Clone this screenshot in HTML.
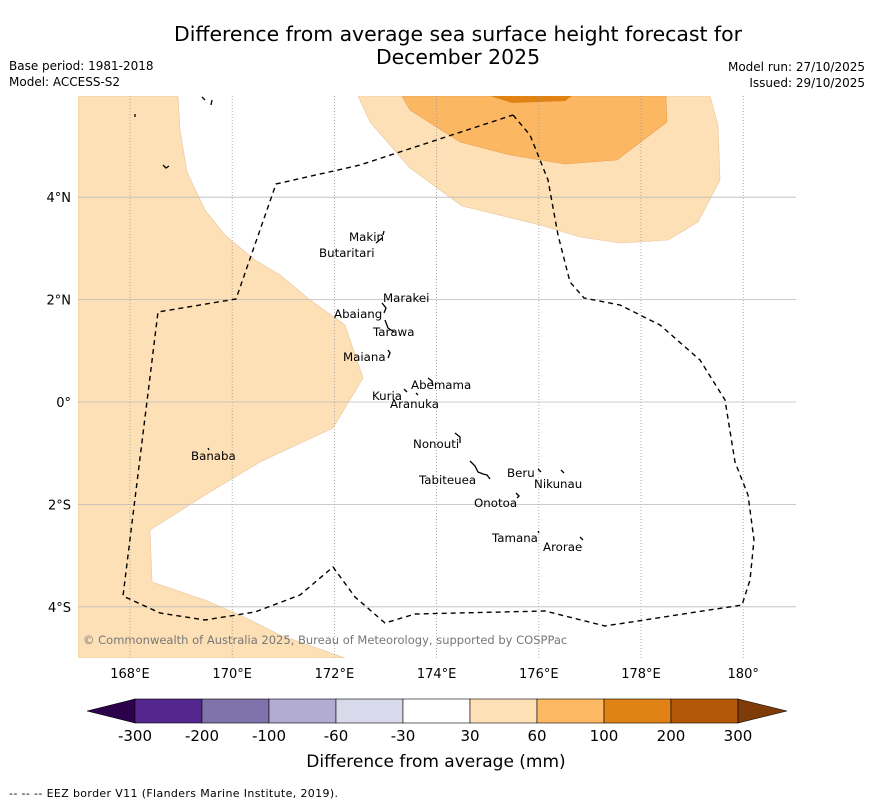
<!DOCTYPE html>
<html><head><meta charset="utf-8"><style>
body{margin:0;background:#fff;}
svg text{font-family:"DejaVu Sans","Liberation Sans",sans-serif;}
</style></head><body>
<svg width="873" height="804" viewBox="0 0 873 804" xmlns="http://www.w3.org/2000/svg">
<text x="458" y="41" font-size="20.4" text-anchor="middle">Difference from average sea surface height forecast for</text>
<text x="458" y="64" font-size="20.4" text-anchor="middle">December 2025</text>
<text x="9" y="70" font-size="12">Base period: 1981-2018</text>
<text x="9" y="86" font-size="12">Model: ACCESS-S2</text>
<text x="865" y="71" font-size="12" text-anchor="end">Model run: 27/10/2025</text>
<text x="865" y="87" font-size="12" text-anchor="end">Issued: 29/10/2025</text>
<defs><clipPath id="mc"><rect x="78" y="96" width="718" height="562"/></clipPath></defs>
<g clip-path="url(#mc)">
<polygon fill="#fde0b6" stroke="#e8c49a" stroke-width="0.6" points="78,96 178,96 180,130 187,172 205,210 225,235 255,260 280,275 310,300 345,325 363,378 333,428 260,462 210,492 150,530 152,582 205,600 240,615 280,635 345,658 78,658"/>
<polygon fill="#fde0b6" stroke="#e8c49a" stroke-width="0.6" points="358,96 710,96 718,125 720,180 698,222 668,240 620,243 580,237 540,225 462,206 410,168 370,122"/>
<polygon fill="#fbb761" stroke="#e8a050" stroke-width="0.6" points="402,96 666,96 667,122 617,160 565,164 510,155 460,142 410,110"/>
<polygon fill="#e08214" points="490,96 572,96 565,101 512,103"/>
<g id="grid"></g>
<polyline fill="none" stroke="#000" stroke-width="1.4" stroke-dasharray="5,4" points="513,115 530,135 548,180 558,235 570,282 584,298 620,305 660,325 700,360 725,400 735,462 748,495 754,540 750,580 742,605 605,626 545,611 415,614 385,623 355,597 333,567 300,595 255,612 205,620 160,613 123,596 158,312 236,299 276,184 360,165 513,115"/>
<g fill="none" stroke="#000" stroke-width="1.3">
<path d="M384,231 l-1,4 M382,238 l-6,5 M202,97 l3,3 M212,100 l-1,5 M135,114 l0,3 M163,165 l3,3 l3,-2 M382,303 l4,5 l-2,5 M385,320 l3,8 l6,4 M388,350 l2,3 l-2,5 M428,378 l4,3 l1,5 M404,389 l3,3 M416,393 l2,2 M455,433 l5,4 l0,6 M470,461 l5,5 l3,6 l5,2 l4,1 l3,4 M516,493 l3,3 l-2,2 M538,469 l3,3 M561,470 l3,3 M538,531 l1,2 M580,537 l3,3 M208,448 l1,2"/>
</g>
<g font-size="11.8" fill="#000">
<text x="349" y="241">Makin</text><text x="319" y="257">Butaritari</text>
<text x="383" y="302">Marakei</text><text x="334" y="318">Abaiang</text>
<text x="373" y="336">Tarawa</text><text x="343" y="361">Maiana</text>
<text x="411" y="389">Abemama</text><text x="372" y="400">Kuria</text>
<text x="390" y="408">Aranuka</text><text x="191" y="460">Banaba</text>
<text x="413" y="448">Nonouti</text><text x="507" y="477">Beru</text>
<text x="419" y="484">Tabiteuea</text><text x="534" y="488">Nikunau</text>
<text x="474" y="507">Onotoa</text><text x="492" y="542">Tamana</text>
<text x="543" y="551">Arorae</text>
</g>
<text x="83" y="644" font-size="11.5" fill="#777">© Commonwealth of Australia 2025, Bureau of Meteorology, supported by COSPPac</text>
</g>
<g id="axes"></g>
<g id="cbar"></g>
<text x="436" y="767" font-size="17" text-anchor="middle">Difference from average (mm)</text>
<text x="9" y="797" font-size="11" textLength="329">--  --  -- EEZ border V11 (Flanders Marine Institute, 2019).</text>
</svg>
<script>
const lonTicks=[168,170,172,174,176,178,180];
const lonLabels=["168°E","170°E","172°E","174°E","176°E","178°E","180°"];
const latTicks=[4,2,0,-2,-4];
const latLabels=["4°N","2°N","0°","2°S","4°S"];
const cbLevels=["-300","-200","-100","-60","-30","30","60","100","200","300"];
const cbColors=["#54278f","#8073ac","#b2abd2","#d8daeb","#ffffff","#fee0b6","#fdb863","#e08214","#b35806"];
const NS="http://www.w3.org/2000/svg";
function xOf(lon){return 130+(lon-168)*51.1;}
function yOf(lat){return 402-lat*51.2;}
function mk(t,a,p){const e=document.createElementNS(NS,t);for(const k in a)e.setAttribute(k,a[k]);p.appendChild(e);return e;}
const grid=document.getElementById('grid'),axes=document.getElementById('axes'),cb=document.getElementById('cbar');
lonTicks.forEach((v,i)=>{const x=xOf(v);
 const l=mk('line',{x1:x,x2:x,y1:96,y2:658,stroke:'#999','stroke-width':0.8,'stroke-dasharray':'1,2'},grid);
 
 
 const t=mk('text',{x:x,y:678,'font-size':13,'text-anchor':'middle'},axes);t.textContent=lonLabels[i];
 
 });
latTicks.forEach((v,i)=>{const y=yOf(v);
 const l=mk('line',{x1:78,x2:796,y1:y,y2:y,stroke:'#bbb','stroke-width':0.8},grid);
 
 
 const t=mk('text',{x:71,y:y+5,'font-size':13,'text-anchor':'end'},axes);t.textContent=latLabels[i];
 
 });
const x0=135,w=67,y0=699,h=24;
const lt=mk('polygon',{points:`${x0},${y0} ${x0},${y0+h} 87,${y0+h/2}`,fill:'#2d004b',stroke:'#000','stroke-width':0.6},cb);


cbColors.forEach((c,i)=>{const r=mk('rect',{x:x0+i*w,y:y0,width:w,height:h,fill:c,stroke:'#000','stroke-width':0.6},cb);
 
 });
const xe=x0+cbColors.length*w;
const rt=mk('polygon',{points:`${xe},${y0} ${xe},${y0+h} 787,${y0+h/2}`,fill:'#7f3b08',stroke:'#000','stroke-width':0.6},cb);


cbLevels.forEach((s,i)=>{const t=mk('text',{x:x0+i*w,y:741,'font-size':15,'text-anchor':'middle'},cb);t.textContent=s;
 
 });
</script>
</body></html>
